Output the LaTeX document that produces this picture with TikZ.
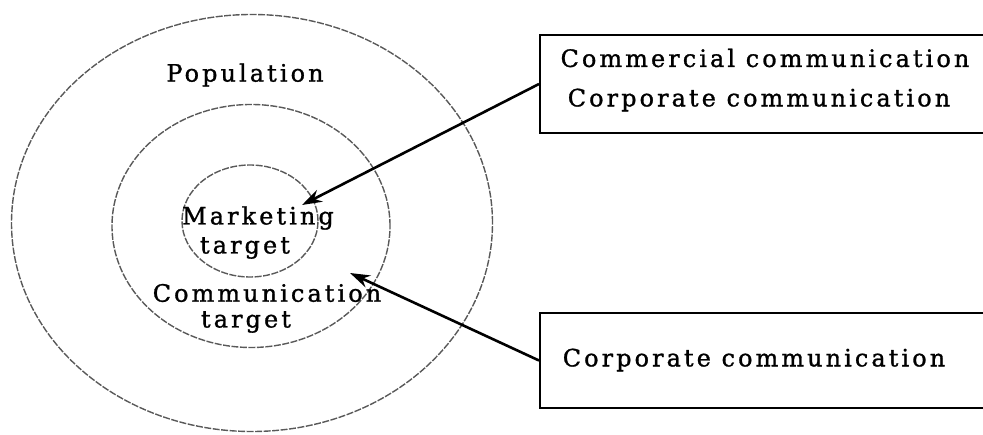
\documentclass[tikz,border=0pt]{standalone}
\usepackage{fontspec}
\setmainfont[LetterSpace=13,FakeBold=1.2]{DejaVu Serif}
\usetikzlibrary{arrows.meta,shapes.geometric}
\begin{document}
\begin{tikzpicture}[x=1bp,y=-1bp,
  ring/.style={draw=black!65, line width=1.4bp, ellipse, inner sep=0pt, dash pattern=on 7bp off 1.5bp},
  lbl/.style={inner sep=0pt, font=\fontsize{24}{28}\selectfont},
  box/.style={draw=black, line width=2bp, rectangle, inner sep=0pt},
  arr/.style={-{Stealth[length=20bp,width=13bp]}, line width=2.6bp, black}]
\useasboundingbox (0,0) rectangle (983,435);
\clip (0,0) rectangle (983,435);
\node[ring, minimum width=481bp, minimum height=417bp] (outer) at (252,223) {};
\node[ring, minimum width=278bp, minimum height=243bp] (middle) at (251,226) {};
\node[ring, minimum width=136bp, minimum height=112bp] (inner) at (250,221) {};
\node[lbl] (pop) at (245,75) {Population};
\node[lbl] (mk1) at (258,218) {Marketing};
\node[lbl] (mk2) at (245,248) {target};
\node[lbl] (cm1) at (267,293) {Communication};
\node[lbl] (cm2) at (246,322) {target};
\node[box, minimum width=460bp, minimum height=98bp] (topbox) at (770,84) {};
\node[lbl] (t1) at (765,58) {Commercial communication};
\node[lbl] (t2) at (759,100) {Corporate communication};
\node[box, minimum width=460bp, minimum height=95bp] (botbox) at (770,360.5) {};
\node[lbl] (b1) at (754,360) {Corporate communication};
\coordinate (tip1) at (302,205);
\coordinate (tip2) at (350,273);
\draw[arr] (topbox.west) -- (tip1);
\draw[arr] (botbox.west) -- (tip2);
\end{tikzpicture}
\end{document}
